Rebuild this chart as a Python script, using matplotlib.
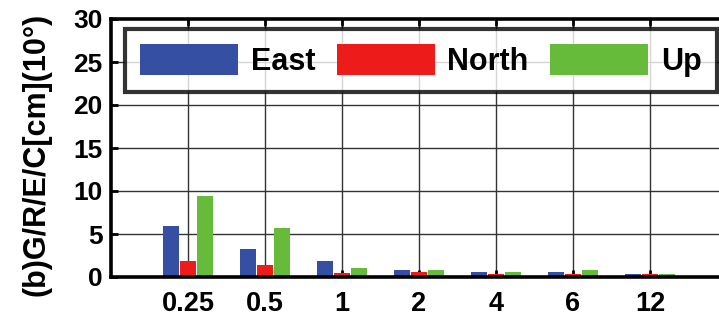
import matplotlib
matplotlib.use("Agg")
import matplotlib.pyplot as plt
import numpy as np

# Sampling intervals (hours) and RMS errors per component
categories = ["0.25", "0.5", "1", "2", "4", "6", "12"]
east = [5.9, 3.3, 1.9, 0.8, 0.55, 0.55, 0.3]
north = [1.9, 1.4, 0.5, 0.6, 0.4, 0.4, 0.4]
up = [9.4, 5.7, 1.1, 0.8, 0.55, 0.8, 0.4]
yticks = [0, 5, 10, 15, 20, 25, 30]

colors = {"East": "#3550A3", "North": "#EE1B1B", "Up": "#66BB3A"}

plt.rcParams["font.family"] = ["Liberation Sans", "DejaVu Sans"]
plt.rcParams["font.weight"] = "bold"

fig = plt.figure(figsize=(7.19, 3.24), dpi=100)
ax = fig.add_axes([111 / 719, 1 - 277 / 324, 616 / 719, 258 / 324])

x = np.arange(1, len(categories) + 1)
w = 0.2
off = 0.222
ax.bar(x - off, east, w, color=colors["East"], label="East", zorder=2)
ax.bar(x, north, w, color=colors["North"], label="North", zorder=2)
ax.bar(x + off, up, w, color=colors["Up"], label="Up", zorder=2)

# grid drawn behind the bars
for xv in x:
    ax.axvline(xv, color="#333333", lw=1.0, zorder=1)
for yv in yticks[1:-1]:
    ax.axhline(yv, color="#333333", lw=1.0, zorder=1)

ax.set_xlim(0, 8)
ax.set_ylim(0, 30)
ax.set_xticks(x)
ax.set_xticklabels(categories)
ax.set_yticks(yticks)
ax.tick_params(axis="y", direction="in", length=5, width=2, labelsize=19,
               left=True, right=True, pad=6)
ax.tick_params(axis="x", direction="in", length=5, width=2, labelsize=19.5,
               top=True, bottom=True, pad=10)
for lab in ax.get_xticklabels() + ax.get_yticklabels():
    lab.set_fontweight("bold")
for s in ax.spines.values():
    s.set_linewidth(2.6)
    s.set_zorder(3)

fig.text(37 / 719, 1 - 154 / 324, "(b)G/R/E/C[cm](10°)", rotation=90,
         fontsize=22, fontweight="bold", ha="center", va="center")

leg = ax.legend(ncol=3, loc="upper left", bbox_to_anchor=(125 / 719, 1 - 29 / 324),
                bbox_transform=fig.transFigure,
                handlelength=3.2, handleheight=1.16, handletextpad=0.42,
                columnspacing=0.7, borderpad=0.5, borderaxespad=0,
                frameon=True, fancybox=False, prop={"weight": "bold", "size": 22})
leg.get_frame().set_edgecolor("black")
leg.get_frame().set_linewidth(3)
leg.set_zorder(5)

fig.savefig("out.png", dpi=100)
